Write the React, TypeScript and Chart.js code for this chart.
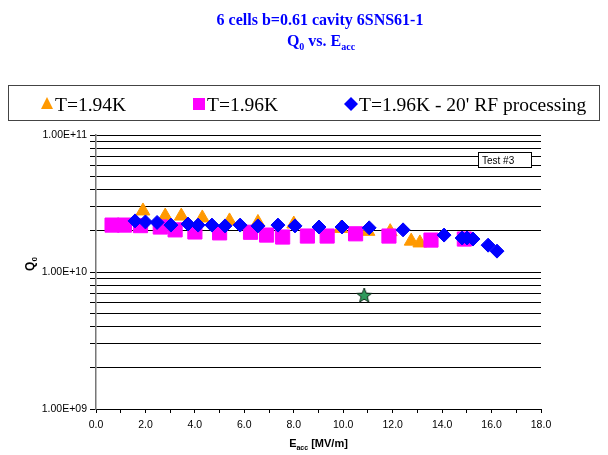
import React, { useEffect, useRef } from "react";
import { Chart, registerables } from "chart.js";

Chart.register(...registerables);

// ---------- data ----------
const seriesLabels = ["T=1.94K", "T=1.96K", "T=1.96K - 20' RF processing"];
const seriesColors = ["#FF9900", "#FF00FF", "#0000FF"];

const e194 = [1.9, 2.8, 3.45, 4.3, 5.4, 6.55, 8.0, 9.9, 11.0, 11.9, 12.75, 13.1];
const q194 = [2.79e10, 2.56e10, 2.56e10, 2.48e10, 2.36e10, 2.3e10, 2.24e10, 2.08e10, 1.98e10, 1.97e10, 1.68e10, 1.63e10];

const e196 = [0.65, 1.15, 1.8, 2.6, 3.2, 4.0, 5.0, 6.25, 6.9, 7.55, 8.55, 9.35, 10.5, 11.85, 13.55, 14.9];
const q196 = [2.2e10, 2.2e10, 2.18e10, 2.13e10, 2.03e10, 1.96e10, 1.93e10, 1.95e10, 1.86e10, 1.8e10, 1.83e10, 1.83e10, 1.9e10, 1.83e10, 1.71e10, 1.74e10];

const e196rf = [1.58, 2.0, 2.47, 3.03, 3.72, 4.13, 4.69, 5.22, 5.83, 6.55, 7.36, 8.05, 9.02, 9.95, 11.05, 12.42, 14.08, 14.81, 15.01, 15.25, 15.86, 16.22];
const q196rf = [2.36e10, 2.32e10, 2.3e10, 2.2e10, 2.24e10, 2.2e10, 2.2e10, 2.17e10, 2.2e10, 2.17e10, 2.2e10, 2.17e10, 2.13e10, 2.13e10, 2.1e10, 2.03e10, 1.86e10, 1.77e10, 1.77e10, 1.74e10, 1.57e10, 1.42e10];

const starE = [10.85];
const starQ = [6.8e9];

const yMajorTicks = [1e9, 1e10, 1e11];
const yMajorLabels = ["1.00E+09", "1.00E+10", "1.00E+11"];
const yMinorMultipliers = [2, 3, 4, 5, 6, 7, 8, 9];
const xMin = 0;
const xMax = 18;
const xStep = 1;

const titleLine1 = "6 cells b=0.61 cavity 6SNS61-1";
const titleLine2 = [{ t: "Q" }, { t: "0", sub: true }, { t: " vs. E" }, { t: "acc", sub: true }];
const xTitle = [{ t: "E" }, { t: "acc", sub: true }, { t: " [MV/m]" }];
const yTitle = [{ t: "Q" }, { t: "0", sub: true }];
const annotationText = "Test #3";

type Part = { t: string; sub?: boolean };

function drawRich(
  ctx: CanvasRenderingContext2D,
  parts: Part[],
  x: number,
  y: number,
  size: number,
  weight: string,
  family: string,
  align: "center" | "left"
) {
  const subSize = Math.round(size * 0.65);
  const widths = parts.map((p) => {
    ctx.font = `${weight} ${p.sub ? subSize : size}px ${family}`;
    return ctx.measureText(p.t).width;
  });
  const total = widths.reduce((a, b) => a + b, 0);
  let cx = align === "center" ? x - total / 2 : x;
  ctx.textAlign = "left";
  ctx.textBaseline = "alphabetic";
  parts.forEach((p, i) => {
    ctx.font = `${weight} ${p.sub ? subSize : size}px ${family}`;
    ctx.fillText(p.t, cx, y + (p.sub ? size * 0.28 : 0));
    cx += widths[i];
  });
}

function makeStar(): HTMLCanvasElement {
  const c = document.createElement("canvas");
  c.width = 18;
  c.height = 18;
  const g = c.getContext("2d")!;
  g.beginPath();
  for (let i = 0; i < 10; i++) {
    const r = i % 2 === 0 ? 7.8 : 3.3;
    const a = -Math.PI / 2 + (i * Math.PI) / 5;
    const px = 9 + r * Math.cos(a);
    const py = 9.8 + r * Math.sin(a);
    if (i === 0) g.moveTo(px, py);
    else g.lineTo(px, py);
  }
  g.closePath();
  g.fillStyle = "#2f9a5c";
  g.fill();
  g.strokeStyle = "#0d2a18";
  g.lineWidth = 1;
  g.stroke();
  return c;
}

function drawMarker(ctx: CanvasRenderingContext2D, kind: number, x: number, y: number, color: string) {
  ctx.fillStyle = color;
  ctx.beginPath();
  if (kind === 0) {
    ctx.moveTo(x, y - 7);
    ctx.lineTo(x + 6, y + 5);
    ctx.lineTo(x - 6, y + 5);
  } else if (kind === 1) {
    ctx.rect(x - 6, y - 6, 12, 12);
  } else {
    ctx.moveTo(x, y - 7);
    ctx.lineTo(x + 7, y);
    ctx.lineTo(x, y + 7);
    ctx.lineTo(x - 7, y);
  }
  ctx.closePath();
  ctx.fill();
}

const decorPlugin = {
  id: "decor",
  afterDraw(chart: any) {
    const ctx: CanvasRenderingContext2D = chart.ctx;
    const area = chart.chartArea;
    ctx.save();
    // title
    ctx.fillStyle = "#0000FF";
    drawRich(ctx, [{ t: titleLine1 }], 320, 25, 16, "bold", "'Liberation Serif'", "center");
    drawRich(ctx, titleLine2, 321, 46, 16, "bold", "'Liberation Serif'", "center");

    // legend box
    ctx.strokeStyle = "#444";
    ctx.lineWidth = 1;
    ctx.strokeRect(8.5, 85.5, 591, 35);
    const legX = [47, 199, 351];
    seriesLabels.forEach((lab, i) => {
      drawMarker(ctx, i, legX[i], 104, seriesColors[i]);
      ctx.fillStyle = "#000";
      ctx.font = "19.5px 'Liberation Serif'";
      ctx.textAlign = "left";
      ctx.textBaseline = "alphabetic";
      ctx.fillText(lab, legX[i] + 8, 111);
    });

    // axis titles
    ctx.fillStyle = "#000";
    drawRich(ctx, xTitle, (area.left + area.right) / 2, 447, 11, "bold", "'Liberation Sans'", "center");
    ctx.save();
    ctx.translate(34, 264);
    ctx.rotate(-Math.PI / 2);
    drawRich(ctx, yTitle, 0, 0, 12, "bold", "'Liberation Sans'", "center");
    ctx.restore();

    // annotation box
    ctx.fillStyle = "#fff";
    ctx.fillRect(478.5, 152.5, 53, 15);
    ctx.strokeStyle = "#000";
    ctx.lineWidth = 1;
    ctx.strokeRect(478.5, 152.5, 53, 15);
    ctx.fillStyle = "#000";
    ctx.font = "10px 'Liberation Sans'";
    ctx.textAlign = "left";
    ctx.textBaseline = "alphabetic";
    ctx.fillText(annotationText, 482, 164);
    ctx.restore();
  },
};

export default function App() {
  const ref = useRef<HTMLCanvasElement | null>(null);
  useEffect(() => {
    if (!ref.current) return;
    const toPts = (xs: number[], ys: number[]) => xs.map((x, i) => ({ x, y: ys[i] }));
    const yTickValues: number[] = [];
    yMajorTicks.forEach((m, idx) => {
      yTickValues.push(m);
      if (idx < yMajorTicks.length - 1) yMinorMultipliers.forEach((k) => yTickValues.push(m * k));
    });
    const chart = new Chart(ref.current, {
      type: "scatter",
      data: {
        datasets: [
          {
            label: seriesLabels[0],
            data: toPts(e194, q194),
            pointStyle: "triangle",
            pointRadius: 8,
            backgroundColor: seriesColors[0],
            borderColor: seriesColors[0],
            borderWidth: 1,
            order: 2,
          },
          {
            label: seriesLabels[1],
            data: toPts(e196, q196),
            pointStyle: "rect",
            pointRadius: 10,
            backgroundColor: seriesColors[1],
            borderColor: seriesColors[1],
            borderWidth: 1,
            order: 1,
          },
          {
            label: seriesLabels[2],
            data: toPts(e196rf, q196rf),
            pointStyle: "rectRot",
            pointRadius: 7,
            backgroundColor: seriesColors[2],
            borderColor: seriesColors[2],
            borderWidth: 1,
            order: 0,
          },
          {
            label: "star",
            data: toPts(starE, starQ),
            pointStyle: makeStar() as any,
            pointRadius: 8,
            order: 3,
          },
        ],
      },
      options: {
        responsive: false,
        animation: false,
        events: [],
        layout: { padding: { top: 135, right: 67, left: 0, bottom: 0 } },
        plugins: {
          legend: { display: false },
          title: { display: false },
          tooltip: { enabled: false },
        },
        scales: {
          x: {
            type: "linear",
            min: xMin,
            max: xMax,
            afterFit: (s: any) => {
              s.height = 46;
            },
            ticks: {
              stepSize: xStep,
              autoSkip: false,
              maxRotation: 0,
              padding: 6,
              color: "#000",
              font: { family: "'Liberation Sans'", size: 10.5 },
              callback: (v: any) => (Number(v) % 2 === 0 ? Number(v).toFixed(1) : ""),
            },
            grid: { display: true, drawOnChartArea: false, drawTicks: true, tickLength: 4, color: "#000" },
            border: { display: true, color: "#000", width: 1 },
          },
          y: {
            type: "logarithmic",
            min: 1e9,
            max: 1e11,
            afterFit: (s: any) => {
              s.width = 96;
            },
            afterBuildTicks: (s: any) => {
              s.ticks = yTickValues.map((v) => ({ value: v, major: yMajorTicks.includes(v) }));
            },
            ticks: {
              autoSkip: false,
              padding: 3,
              color: "#000",
              font: { family: "'Liberation Sans'", size: 10.5 },
              callback: (v: any) => {
                const idx = yMajorTicks.findIndex((m) => Math.abs(m - Number(v)) / m < 1e-6);
                return idx >= 0 ? yMajorLabels[idx] : "";
              },
            },
            grid: { display: true, drawOnChartArea: true, drawTicks: true, tickLength: 6, color: "#000", lineWidth: 1 },
            border: { display: true, color: "#777", width: 1.5 },
          },
        },
      },
      plugins: [decorPlugin],
    });
    return () => chart.destroy();
  }, []);
  return (
    <div style={{ position: "absolute", left: 0, top: 0, width: 608, height: 455, background: "#fff" }}>
      <canvas ref={ref} width={608} height={455} style={{ display: "block" }} />
    </div>
  );
}
